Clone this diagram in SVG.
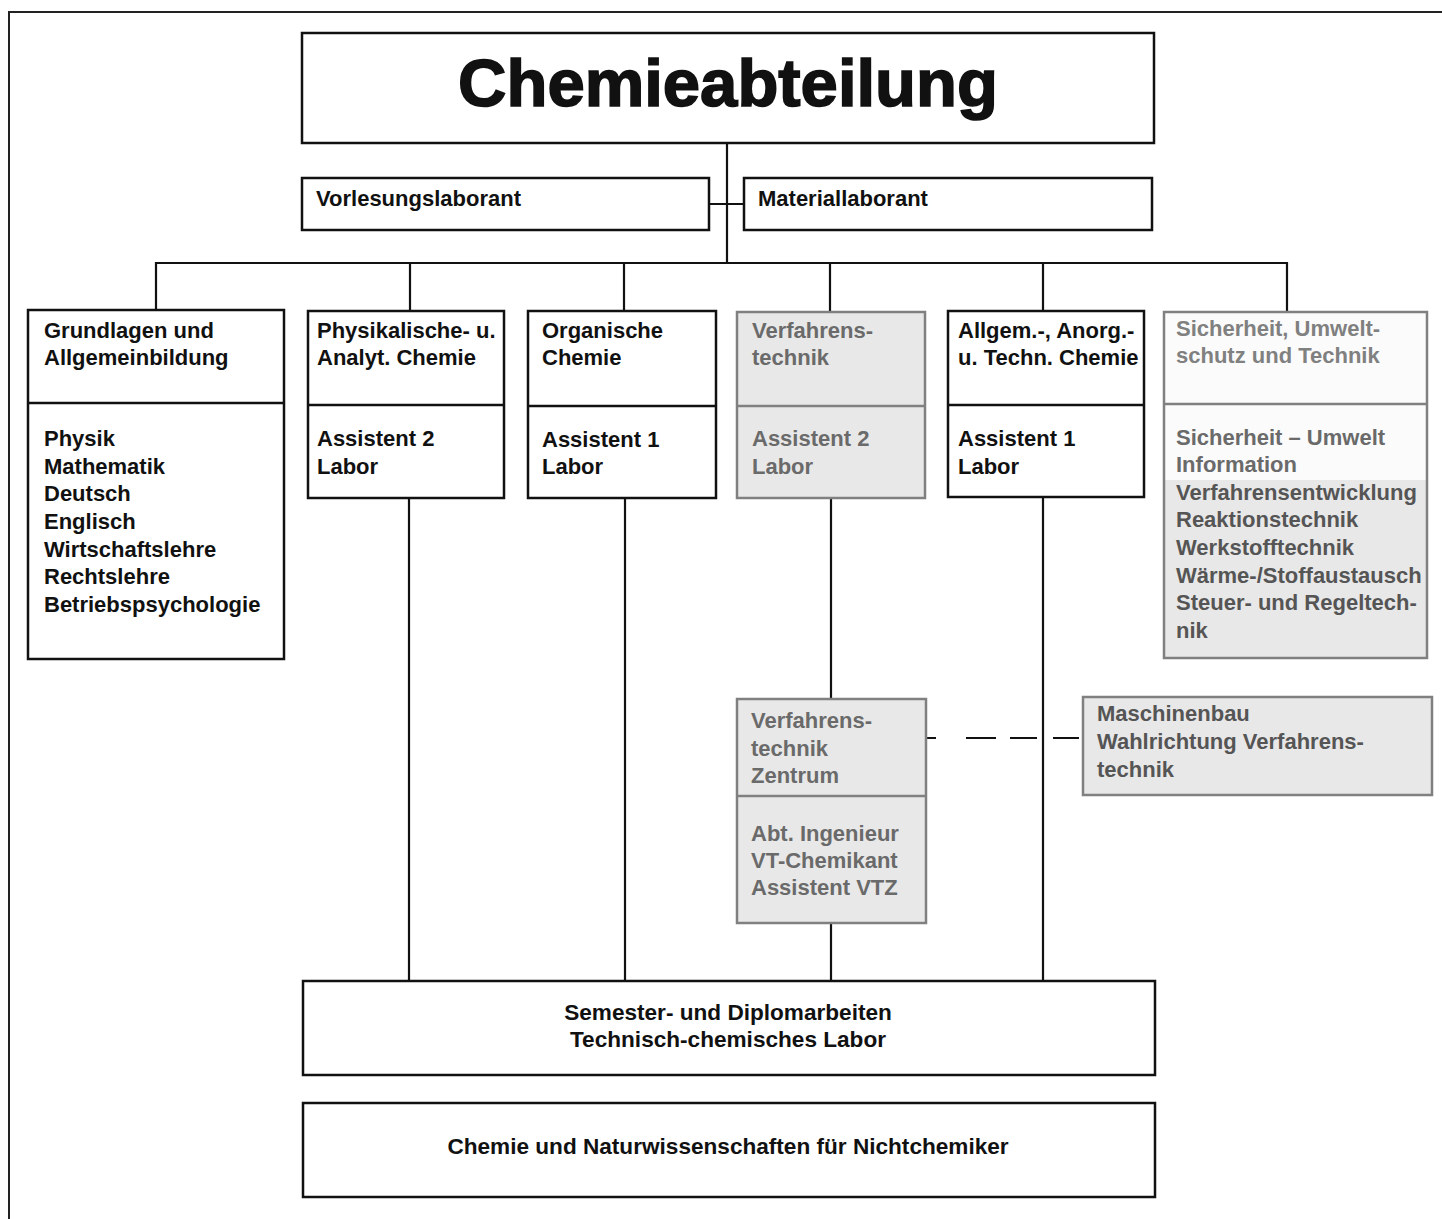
<svg xmlns="http://www.w3.org/2000/svg" width="1442" height="1219" viewBox="0 0 1442 1219">
<style>
text{font-family:"Liberation Sans",Arial,Helvetica,sans-serif;font-weight:bold;font-size:22px;fill:#111}
.box{fill:#fff;stroke:#111;stroke-width:2.5}
.gbox{fill:#e8e8e8;stroke:#808080;stroke-width:2.5}
.gline{stroke:#808080;stroke-width:2.5}
.bline{stroke:#111;stroke-width:2.5}
.g1{fill:#6a6a6a}
.g2{fill:#808080}
.g3{fill:#555}
.con{stroke:#111;stroke-width:2.2;fill:none}
.mid{text-anchor:middle}
.big{font-size:22.6px}
</style>
<rect width="1442" height="1219" fill="#fff"/>
<path d="M9,1219 V12 H1442" fill="none" stroke="#222" stroke-width="2"/>

<g id="connectors">
<path class="con" d="M727,143 V263"/>
<path class="con" d="M709,204 H744"/>
<path class="con" d="M156,310 V263 H1287 V312"/>
<path class="con" d="M410,263 V311"/>
<path class="con" d="M624,263 V311"/>
<path class="con" d="M830,263 V312"/>
<path class="con" d="M1043,263 V311"/>
<path class="con" d="M409,498 V981"/>
<path class="con" d="M625,498 V981"/>
<path class="con" d="M831,498 V699"/>
<path class="con" d="M831,923 V981"/>
<path class="con" d="M1043,497 V981"/>
<path class="con" d="M926,738 H1082" stroke-dasharray="10 30 30 14 27 16 26"/>
</g>

<g id="title">
<rect class="box" x="302" y="33" width="852" height="110"/>
<text x="728" y="106" class="mid" style="font-size:67px;stroke:#111;stroke-width:1.6">Chemieabteilung</text>
</g>

<g id="vorlesung">
<rect class="box" x="302" y="178" width="407" height="52"/>
<text x="316" y="206">Vorlesungslaborant</text>
</g>

<g id="material">
<rect class="box" x="744" y="178" width="408" height="52"/>
<text x="758" y="206">Materiallaborant</text>
</g>

<g id="grundlagen">
<rect class="box" x="28" y="310" width="256" height="349"/>
<line class="bline" x1="28" y1="403" x2="284" y2="403"/>
<text x="44" y="338">Grundlagen und</text>
<text x="44" y="365">Allgemeinbildung</text>
<text x="44" y="446">Physik</text>
<text x="44" y="474">Mathematik</text>
<text x="44" y="501">Deutsch</text>
<text x="44" y="529">Englisch</text>
<text x="44" y="557">Wirtschaftslehre</text>
<text x="44" y="584">Rechtslehre</text>
<text x="44" y="612">Betriebspsychologie</text>
</g>

<g id="physikalische">
<rect class="box" x="308" y="311" width="196" height="187"/>
<line class="bline" x1="308" y1="405" x2="504" y2="405"/>
<text x="317" y="338">Physikalische- u.</text>
<text x="317" y="365">Analyt. Chemie</text>
<text x="317" y="446">Assistent 2</text>
<text x="317" y="474">Labor</text>
</g>

<g id="organische">
<rect class="box" x="528" y="311" width="188" height="187"/>
<line class="bline" x1="528" y1="406" x2="716" y2="406"/>
<text x="542" y="338">Organische</text>
<text x="542" y="365">Chemie</text>
<text x="542" y="447">Assistent 1</text>
<text x="542" y="474">Labor</text>
</g>

<g id="verfahrenstechnik">
<rect class="gbox" x="737" y="312" width="188" height="186"/>
<line class="gline" x1="737" y1="406" x2="925" y2="406"/>
<text class="g1" x="752" y="338">Verfahrens-</text>
<text class="g1" x="752" y="365">technik</text>
<text class="g1" x="752" y="446">Assistent 2</text>
<text class="g1" x="752" y="474">Labor</text>
</g>

<g id="allgemeine">
<rect class="box" x="948" y="311" width="196" height="186"/>
<line class="bline" x1="948" y1="405" x2="1144" y2="405"/>
<text x="958" y="338">Allgem.-, Anorg.-</text>
<text x="958" y="365">u. Techn. Chemie</text>
<text x="958" y="446">Assistent 1</text>
<text x="958" y="474">Labor</text>
</g>

<g id="sicherheit">
<rect x="1164" y="312" width="263" height="346" fill="#fbfbfb"/>
<rect x="1164" y="480" width="263" height="178" fill="#e8e8e8"/>
<rect x="1164" y="312" width="263" height="346" fill="none" stroke="#808080" stroke-width="2.5"/>
<line class="gline" x1="1164" y1="404" x2="1427" y2="404"/>
<text class="g2" x="1176" y="336">Sicherheit, Umwelt-</text>
<text class="g2" x="1176" y="363">schutz und Technik</text>
<text class="g1" x="1176" y="445">Sicherheit – Umwelt</text>
<text class="g1" x="1176" y="472">Information</text>
<text class="g3" x="1176" y="500">Verfahrensentwicklung</text>
<text class="g3" x="1176" y="527">Reaktionstechnik</text>
<text class="g3" x="1176" y="555">Werkstofftechnik</text>
<text class="g3" x="1176" y="583">Wärme-/Stoffaustausch</text>
<text class="g3" x="1176" y="610">Steuer- und Regeltech-</text>
<text class="g3" x="1176" y="638">nik</text>
</g>

<g id="zentrum">
<rect class="gbox" x="737" y="699" width="189" height="224"/>
<line class="gline" x1="737" y1="796" x2="926" y2="796"/>
<text class="g1" x="751" y="728">Verfahrens-</text>
<text class="g1" x="751" y="756">technik</text>
<text class="g1" x="751" y="783">Zentrum</text>
<text class="g1" x="751" y="841">Abt. Ingenieur</text>
<text class="g1" x="751" y="868">VT-Chemikant</text>
<text class="g1" x="751" y="895">Assistent VTZ</text>
</g>

<g id="maschinenbau">
<rect class="gbox" x="1083" y="697" width="349" height="98"/>
<text class="g3" x="1097" y="721">Maschinenbau</text>
<text class="g3" x="1097" y="749">Wahlrichtung Verfahrens-</text>
<text class="g3" x="1097" y="777">technik</text>
</g>

<g id="semester">
<rect class="box" x="303" y="981" width="852" height="94"/>
<text x="728" y="1020" class="mid big">Semester- und Diplomarbeiten</text>
<text x="728" y="1047" class="mid big">Technisch-chemisches Labor</text>
</g>

<g id="nichtchemiker">
<rect class="box" x="303" y="1103" width="852" height="94"/>
<text x="728" y="1154" class="mid big">Chemie und Naturwissenschaften für Nichtchemiker</text>
</g>
</svg>
